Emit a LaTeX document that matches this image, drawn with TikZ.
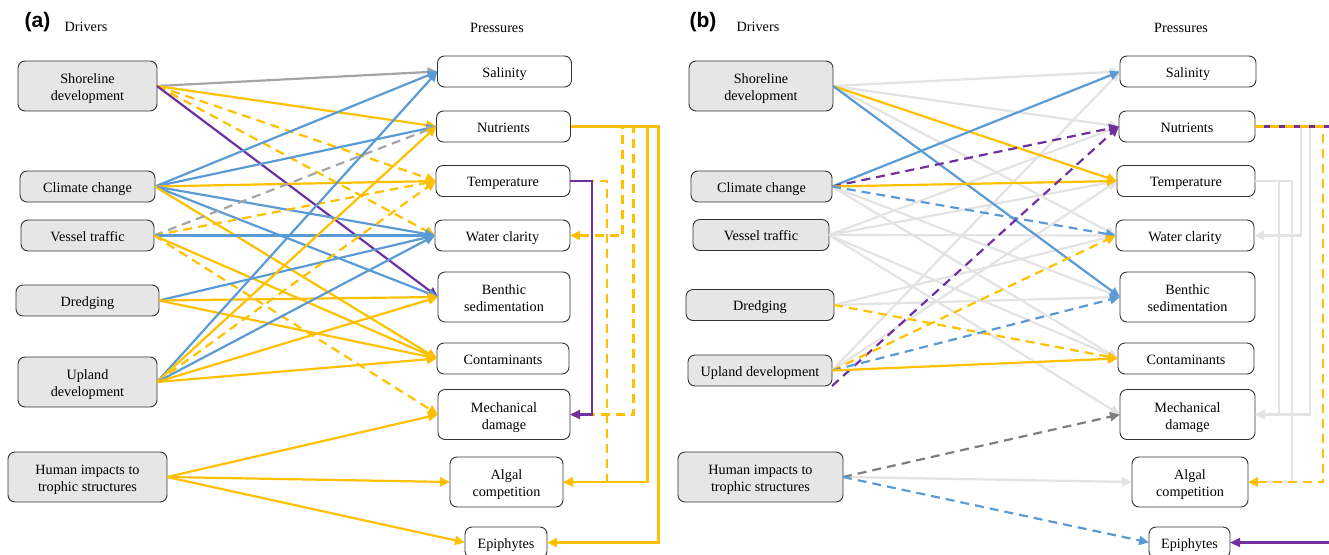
\documentclass[tikz,border=0pt]{standalone}
\usepackage{fontspec}
\setmainfont{Liberation Serif}
\newfontfamily\headfont{Liberation Sans}
\usetikzlibrary{arrows.meta}

\definecolor{gold}{HTML}{FFC000}
\definecolor{sky}{HTML}{5B9BD5}
\definecolor{plum}{HTML}{7030A0}
\definecolor{ash}{HTML}{A5A5A5}
\definecolor{mist}{HTML}{E3E3E3}
\definecolor{slate}{HTML}{7F7F7F}
\definecolor{boxfill}{HTML}{E6E6E6}

\begin{document}
\begin{tikzpicture}[x=1pt,y=-1pt,
  every node/.style={font=\fontsize{14.2}{17}\selectfont, outer sep=0pt, inner sep=1pt},
  drv/.style={draw=black!80, line width=0.9pt, fill=boxfill, rounded corners=7pt, align=center, minimum height=31pt, text height=11.5pt, text depth=0pt},
  prs/.style={draw=black!80, line width=0.9pt, fill=white, rounded corners=7pt, align=center, minimum width=134pt, minimum height=31pt, text height=11.5pt, text depth=0pt},
  tall/.style={minimum height=50pt, text height=29pt, text depth=0pt},
  yl/.style={draw=gold, line width=2.2pt},
  bl/.style={draw=sky, line width=2.2pt},
  pu/.style={draw=plum, line width=2.2pt},
  gy/.style={draw=ash, line width=2.2pt},
  lg/.style={draw=mist, line width=2.2pt},
  dg/.style={draw=slate, line width=2.2pt},
  dsh/.style={dash pattern=on 9pt off 6pt},
  >={Triangle[length=10pt,width=9pt]}]
\useasboundingbox (0,0) rectangle (1329,554);

% panel (a)
\node[font=\headfont\bfseries\fontsize{21}{21}\selectfont] (ta) at (37.5,22) {(a)};
\node (dra) at (86,27) {Drivers};
\node (pra) at (497,28) {Pressures};

\node[drv, tall, minimum width=139pt] (sh1) at (87.5,86) {Shoreline\\development};
\node[drv, minimum width=135pt] (cc1) at (87.5,186.5) {Climate change};
\node[drv, minimum width=133pt] (vt1) at (87.5,235.5) {Vessel traffic};
\node[drv, minimum width=143pt] (dr1) at (87.5,300.5) {Dredging};
\node[drv, tall, minimum width=139pt] (up1) at (87.5,382) {Upland\\development};
\node[drv, tall, minimum width=159pt] (hi1) at (87.5,477) {Human impacts to\\trophic structures};

\node[prs] (sal1) at (504.5,71.5) {Salinity};
\node[prs] (nut1) at (503.5,126.5) {Nutrients};
\node[prs] (tem1) at (503,181) {Temperature};
\node[prs, minimum width=135pt] (wc1) at (502.5,235.5) {Water clarity};
\node[prs, tall, minimum width=132pt] (ben1) at (504,297) {Benthic\\sedimentation};
\node[prs, minimum width=132pt] (con1) at (503,358.5) {Contaminants};
\node[prs, tall, minimum width=132pt] (mec1) at (504,414.5) {Mechanical\\damage};
\node[prs, tall, minimum width=113pt] (alg1) at (506.5,482) {Algal\\competition};
\node[prs, minimum width=82pt] (epi1) at (506,542.5) {Epiphytes};

\draw[gy,->] (sh1.east) -- (sal1.west);
\draw[yl,->] (sh1.east) -- (nut1.west);
\draw[yl,dsh,->] (sh1.east) -- (tem1.west);
\draw[yl,dsh,->] (sh1.east) -- (wc1.west);
\draw[pu,->] (sh1.east) -- (ben1.west);

\draw[bl,->] (cc1.east) -- (sal1.west);
\draw[bl,->] (cc1.east) -- (nut1.west);
\draw[yl,->] (cc1.east) -- (tem1.west);
\draw[bl,->] (cc1.east) -- (wc1.west);
\draw[bl,->] (cc1.east) -- (ben1.west);
\draw[yl,->] (cc1.east) -- (con1.west);

\draw[gy,dsh,->] (vt1.east) -- (nut1.west);
\draw[yl,dsh,->] (vt1.east) -- (tem1.west);
\draw[bl,->] (vt1.east) -- (wc1.west);
\draw[yl,->] (vt1.east) -- (con1.west);
\draw[yl,dsh,->] (vt1.east) -- (mec1.west);

\draw[bl,->] (dr1.east) -- (wc1.west);
\draw[yl,->] (dr1.east) -- (ben1.west);
\draw[yl,->] (dr1.east) -- (con1.west);

\draw[bl,->] (up1.east) -- (sal1.west);
\draw[yl,->] (up1.east) -- (nut1.west);
\draw[yl,dsh,->] (up1.east) -- (tem1.west);
\draw[bl,->] (up1.east) -- (wc1.west);
\draw[yl,->] (up1.east) -- (ben1.west);
\draw[yl,->] (up1.east) -- (con1.west);

\draw[yl,->] (hi1.east) -- (mec1.west);
\draw[yl,->] (hi1.east) -- (alg1.west);
\draw[yl,->] (hi1.east) -- (epi1.west);

% feedbacks (a)
\draw[yl,dsh,->] (nut1.east) -- ++(52,0) |- (wc1.east);
\draw[yl,dsh,->] (nut1.east) -- ++(63,0) |- (mec1.east);
\draw[yl,->] (nut1.east) -- ++(77,0) |- (alg1.east);
\draw[yl,->] (nut1.east) -- ++(88,0) |- (epi1.east);
\draw[yl,dsh,->] (tem1.east) -- ++(37,0) |- (alg1.east);
\draw[pu,->] (tem1.east) -- ++(22,0) |- (mec1.east);

% panel (b)
\node[font=\headfont\bfseries\fontsize{21}{21}\selectfont] (tb) at (703,22) {(b)};
\node (drb) at (758,27) {Drivers};
\node (prb) at (1181,28) {Pressures};

\node[drv, tall, minimum width=144pt] (sh2) at (761,86) {Shoreline\\development};
\node[drv, minimum width=141pt] (cc2) at (761.5,186.5) {Climate change};
\node[drv, minimum width=136pt] (vt2) at (761,235) {Vessel traffic};
\node[drv, minimum width=148pt] (dr2) at (760,305) {Dredging};
\node[drv, minimum width=144pt] (up2) at (760,370.5) {Upland development};
\node[drv, tall, minimum width=165pt] (hi2) at (760.5,477) {Human impacts to\\trophic structures};

\node[prs, minimum width=136pt] (sal2) at (1188,71.5) {Salinity};
\node[prs, minimum width=136pt] (nut2) at (1187,126.5) {Nutrients};
\node[prs, minimum width=138pt] (tem2) at (1186,181) {Temperature};
\node[prs, minimum width=138pt] (wc2) at (1185,235.5) {Water clarity};
\node[prs, tall, minimum width=135pt] (ben2) at (1187.5,297) {Benthic\\sedimentation};
\node[prs, minimum width=136pt] (con2) at (1186,358.5) {Contaminants};
\node[prs, tall, minimum width=135pt] (mec2) at (1187.5,414.5) {Mechanical\\damage};
\node[prs, tall, minimum width=116pt] (alg2) at (1190,482) {Algal\\competition};
\node[prs, minimum width=81pt] (epi2) at (1189.5,542.5) {Epiphytes};

% background links (b)
\draw[lg,->] (sh2.east) -- (sal2.west);
\draw[lg,->] (sh2.east) -- (nut2.west);
\draw[lg,->] (sh2.east) -- (wc2.west);
\draw[lg,->] (cc2.east) -- (ben2.west);
\draw[lg,->] (cc2.east) -- (con2.west);
\draw[lg,->] (vt2.east) -- (nut2.west);
\draw[lg,->] (vt2.east) -- (tem2.west);
\draw[lg,->] (vt2.east) -- (wc2.west);
\draw[lg,->] (vt2.east) -- (con2.west);
\draw[lg,->] (vt2.east) -- (mec2.west);
\draw[lg,->] (dr2.east) -- (wc2.west);
\draw[lg,->] (dr2.east) -- (ben2.west);
\draw[lg,->] (up2.east) -- (sal2.west);
\draw[lg,->] (up2.east) -- (tem2.west);
\draw[lg,->] (hi2.east) -- (alg2.west);

\draw[lg,->] (tem2.east) -- ++(24,0) |- (mec2.east);
\draw[lg,->] (tem2.east) -- ++(37,0) |- (alg2.east);
\draw[lg,->] (nut2.east) -- ++(46,0) |- (wc2.east);
\draw[lg,->] (nut2.east) -- ++(55,0) |- (mec2.east);

% highlighted links (b)
\draw[yl,->] (sh2.east) -- (tem2.west);
\draw[bl,->] (sh2.east) -- (ben2.west);
\draw[bl,->] (cc2.east) -- (sal2.west);
\draw[pu,dsh,->] (cc2.east) -- (nut2.west);
\draw[yl,->] (cc2.east) -- (tem2.west);
\draw[bl,dsh,->] (cc2.east) -- (wc2.west);
\draw[yl,dsh,->] (dr2.east) -- (con2.west);
\draw[pu,dsh,->] (up2.south east) -- (nut2.west);
\draw[yl,dsh,->] (up2.east) -- (wc2.west);
\draw[bl,dsh,->] (up2.east) -- (ben2.west);
\draw[yl,->] (up2.east) -- (con2.west);
\draw[dg,dsh,->] (hi2.east) -- (mec2.west);
\draw[bl,dsh,->] (hi2.east) -- (epi2.west);

\draw[pu,->] (nut2.east) -- ++(100,0) |- (epi2.east);
\draw[yl,dsh,->] (nut2.east) -- ++(68,0) |- (alg2.east);
\end{tikzpicture}
\end{document}
